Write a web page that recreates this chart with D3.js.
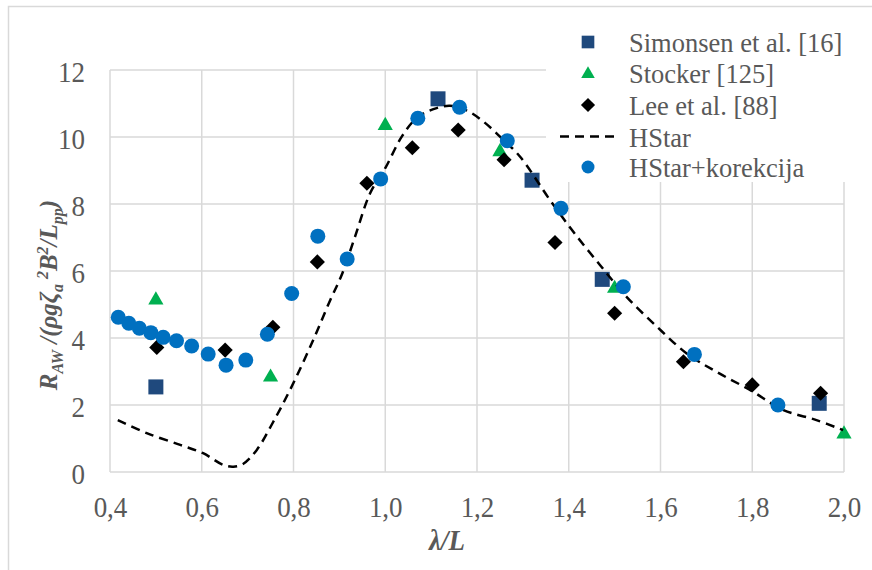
<!DOCTYPE html>
<html>
<head>
<meta charset="utf-8">
<script src="https://cdn.jsdelivr.net/npm/d3@7"></script>
<style>
  html, body { margin: 0; padding: 0; background: #fff; }
  svg { display: block; }
  svg text { font-family: 'Liberation Serif', 'Tinos', 'Times New Roman', 'DejaVu Serif', 'Noto Serif', serif; }
</style>
</head>
<body>
<svg id="chart" width="872" height="570"></svg>
<script>
// ---- data ----
const xTicks = [0.4, 0.6, 0.8, 1.0, 1.2, 1.4, 1.6, 1.8, 2.0];
const yTicks = [0, 2, 4, 6, 8, 10, 12];

const simonsenX = [0.50, 1.115, 1.32, 1.473, 1.946];
const simonsenY = [2.54, 11.14, 8.71, 5.75, 2.05];

const stockerX = [0.50, 0.75, 1.00, 1.25, 1.50, 2.00];
const stockerY = [5.13, 2.83, 10.34, 9.56, 5.48, 1.13];

const leeX = [0.502, 0.651, 0.755, 0.852, 0.96, 1.059, 1.159, 1.259, 1.37, 1.50, 1.65, 1.80, 1.949];
const leeY = [3.72, 3.64, 4.32, 6.27, 8.62, 9.68, 10.21, 9.32, 6.85, 4.74, 3.29, 2.60, 2.35];

const hstarX = [0.417, 0.48, 0.553, 0.603, 0.647, 0.669, 0.69, 0.72, 0.756, 0.796, 0.843, 0.88, 0.905, 0.934, 0.967, 1.0, 1.036, 1.068, 1.105, 1.141, 1.178, 1.214, 1.254, 1.294, 1.359, 1.41, 1.468, 1.526, 1.592, 1.657, 1.722, 1.795, 1.868, 1.94, 1.998];
const hstarY = [1.55, 1.16, 0.81, 0.56, 0.21, 0.16, 0.24, 0.66, 1.50, 2.55, 3.94, 5.13, 5.88, 7.02, 8.32, 9.07, 10.01, 10.56, 10.83, 10.93, 10.79, 10.46, 9.96, 9.41, 8.12, 7.17, 6.18, 5.23, 4.34, 3.54, 2.99, 2.45, 1.85, 1.55, 1.25];

const korX = [0.418, 0.441, 0.464, 0.489, 0.516, 0.545, 0.578, 0.614, 0.653, 0.696, 0.743, 0.796, 0.853, 0.917, 0.99, 1.071, 1.162, 1.266, 1.383, 1.519, 1.674, 1.856];
const korY = [4.62, 4.44, 4.29, 4.16, 4.02, 3.92, 3.76, 3.52, 3.19, 3.34, 4.11, 5.33, 7.04, 6.36, 8.75, 10.56, 10.89, 9.89, 7.87, 5.53, 3.51, 2.00];

const seriesNames = ["Simonsen et al. [16]", "Stocker [125]", "Lee et al. [88]", "HStar", "HStar+korekcija"];

// ---- setup ----
const svg = d3.select("#chart");
const SY = 1.08; // vertical text stretch seen in reference
const textGray = "#595959";
const gridGray = "#d9d9d9";

const x = d3.scaleLinear().domain([0.4, 2.0]).range([110, 844]);
const y = d3.scaleLinear().domain([0, 12]).range([472, 70]);

// outer border
svg.append("rect").attr("x", 8.5).attr("y", 6.5).attr("width", 900).attr("height", 600)
  .attr("fill", "none").attr("stroke", gridGray).attr("stroke-width", 1.5);

// gridlines
svg.append("g").selectAll("line").data(yTicks).join("line")
  .attr("x1", x(0.4)).attr("x2", x(2.0))
  .attr("y1", d => y(d)).attr("y2", d => y(d))
  .attr("stroke", gridGray).attr("stroke-width", 1.5);
svg.append("g").selectAll("line").data(xTicks).join("line")
  .attr("x1", d => x(d)).attr("x2", d => x(d))
  .attr("y1", y(12)).attr("y2", y(0))
  .attr("stroke", gridGray).attr("stroke-width", 1.5);

// axes (labels only)
const fmtX = d => d3.format(".1f")(d).replace(".", ",");
const gx = svg.append("g").attr("transform", `translate(0,${y(0)})`)
  .call(d3.axisBottom(x).tickValues(xTicks).tickFormat(fmtX).tickSize(0));
gx.attr("font-family", null).attr("font-size", null);
gx.select(".domain").remove();
gx.selectAll("text")
  .attr("y", null).attr("dy", null)
  .attr("transform", `translate(0,45) scale(1,${SY})`)
  .attr("font-size", 27).attr("fill", textGray);

const gy = svg.append("g").attr("transform", `translate(${x(0.4)},0)`)
  .call(d3.axisLeft(y).tickValues(yTicks).tickFormat(d3.format("d")).tickSize(0));
gy.attr("font-family", null).attr("font-size", null);
gy.select(".domain").remove();
gy.selectAll("text")
  .attr("x", null).attr("dy", null)
  .attr("transform", `translate(-25,11) scale(1,${SY})`)
  .attr("font-size", 27).attr("fill", textGray);

// axis titles
svg.append("text")
  .attr("transform", `translate(447,550) scale(1,${SY})`)
  .attr("text-anchor", "middle").attr("font-size", 27)
  .attr("font-weight", "bold").attr("font-style", "italic").attr("fill", textGray)
  .text("λ/L");

const yt = svg.append("text")
  .attr("transform", `translate(57,295) rotate(-90)`)
  .attr("text-anchor", "middle").attr("font-size", 25)
  .attr("font-weight", "bold").attr("font-style", "italic").attr("fill", textGray);
const parts = [
  ["R", 0], ["AW", 1], [" /(ρgζ", 0], ["a", 1], ["\u2009", 0], ["2", -1], ["B", 0], ["2", -1], ["/L", 0], ["pp", 1], [")", 0]
];
let prev = 0;
parts.forEach(([t, lvl]) => {
  const off = lvl === 1 ? 6 : (lvl === -1 ? -9 : 0);
  yt.append("tspan").attr("dy", off - prev)
    .attr("font-size", lvl === 0 ? 25 : 16).text(t);
  prev = off;
});

// line: HStar
const hstar = hstarX.map((v, i) => [v, hstarY[i]]);
const lineGen = d3.line().x(d => x(d[0])).y(d => y(d[1])).curve(d3.curveCatmullRom.alpha(0.5));

// markers
const sym = (type, size) => d3.symbol().type(type).size(size)();
const simonsen = simonsenX.map((v, i) => [v, simonsenY[i]]);
const stocker = stockerX.map((v, i) => [v, stockerY[i]]);
const lee = leeX.map((v, i) => [v, leeY[i]]);
const kor = korX.map((v, i) => [v, korY[i]]);

svg.append("g").selectAll("path").data(simonsen).join("path")
  .attr("d", sym(d3.symbolSquare, 225))
  .attr("transform", d => `translate(${x(d[0])},${y(d[1])})`)
  .attr("fill", "#1f497d");

svg.append("g").selectAll("path").data(stocker).join("path")
  .attr("d", sym(d3.symbolTriangle, 100))
  .attr("transform", d => `translate(${x(d[0])},${y(d[1])})`)
  .attr("fill", "#00b050");

svg.append("g").selectAll("path").data(lee).join("path")
  .attr("d", sym(d3.symbolSquare, 115))
  .attr("transform", d => `translate(${x(d[0])},${y(d[1])}) rotate(45)`)
  .attr("fill", "#000");

svg.append("path").datum(hstar)
  .attr("d", lineGen).attr("fill", "none")
  .attr("stroke", "#000").attr("stroke-width", 2.5).attr("stroke-dasharray", "9,6");

svg.append("g").selectAll("circle").data(kor).join("circle")
  .attr("cx", d => x(d[0])).attr("cy", d => y(d[1])).attr("r", 7.5)
  .attr("fill", "#0070c0");

// legend
const lg = svg.append("g");
lg.append("rect").attr("x", 546).attr("y", 18).attr("width", 320).attr("height", 164).attr("fill", "#fff");
const rowY = [42, 73, 105, 136.5, 167];
const mx = 588;
lg.append("path").attr("d", sym(d3.symbolSquare, 160)).attr("transform", `translate(${mx},${rowY[0]})`).attr("fill", "#1f497d");
lg.append("path").attr("d", sym(d3.symbolTriangle, 80)).attr("transform", `translate(${mx},${rowY[1] + 1})`).attr("fill", "#00b050");
lg.append("path").attr("d", sym(d3.symbolSquare, 100)).attr("transform", `translate(${mx},${rowY[2]}) rotate(45)`).attr("fill", "#000");
lg.append("line").attr("x1", 560).attr("x2", 620).attr("y1", rowY[3]).attr("y2", rowY[3])
  .attr("stroke", "#000").attr("stroke-width", 2.5).attr("stroke-dasharray", "9,6");
lg.append("circle").attr("cx", mx).attr("cy", rowY[4]).attr("r", 6.5).attr("fill", "#0070c0");

lg.selectAll("text.lt").data(seriesNames).join("text").attr("class", "lt")
  .attr("transform", (d, i) => `translate(629,${rowY[i] + 10})`)
  .attr("font-size", 26.5).attr("fill", textGray)
  .text(d => d);
</script>
</body>
</html>
